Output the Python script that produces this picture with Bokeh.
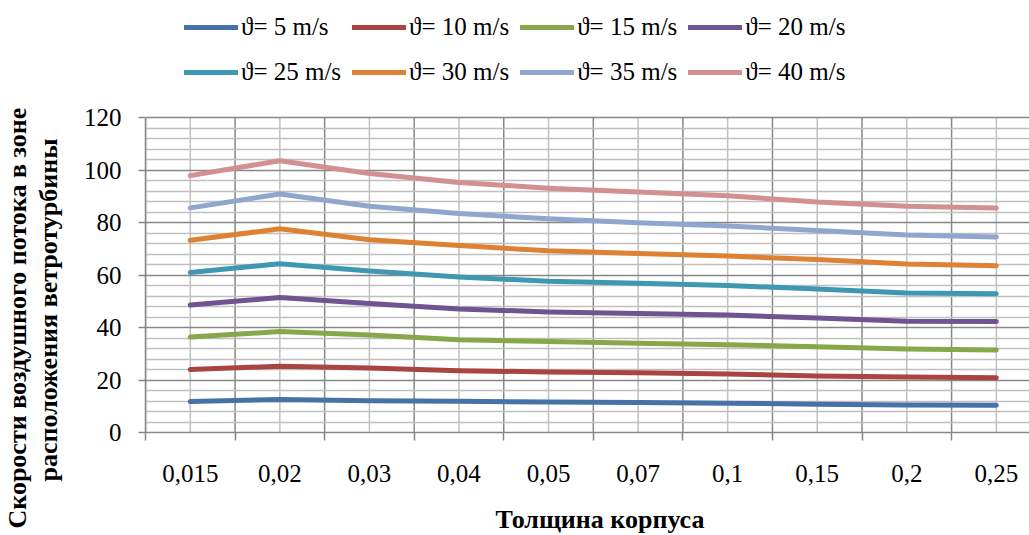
from bokeh.plotting import figure
from bokeh.models import FixedTicker, Legend, LegendItem, Range1d, Title
from bokeh.embed import file_html
from bokeh.resources import INLINE

categories = ["0,015", "0,02", "0,03", "0,04", "0,05", "0,07", "0,1", "0,15", "0,2", "0,25"]
series_names = ["ϑ= 5 m/s", "ϑ= 10 m/s", "ϑ= 15 m/s", "ϑ= 20 m/s",
                "ϑ= 25 m/s", "ϑ= 30 m/s", "ϑ= 35 m/s", "ϑ= 40 m/s"]
v5 = [11.8, 12.6, 12.1, 11.9, 11.6, 11.4, 11.2, 10.8, 10.5, 10.4]
v10 = [24.0, 25.3, 24.6, 23.6, 23.1, 22.8, 22.3, 21.6, 21.2, 20.9]
v15 = [36.4, 38.5, 37.2, 35.4, 34.7, 34.0, 33.5, 32.7, 31.9, 31.5]
v20 = [48.6, 51.5, 49.2, 47.1, 46.0, 45.4, 44.8, 43.7, 42.4, 42.3]
v25 = [61.0, 64.4, 61.6, 59.3, 57.7, 56.9, 56.1, 54.7, 53.2, 52.9]
v30 = [73.3, 77.7, 73.5, 71.3, 69.3, 68.3, 67.3, 66.0, 64.3, 63.6]
v35 = [85.7, 91.0, 86.3, 83.5, 81.5, 80.0, 78.8, 77.1, 75.3, 74.6]
v40 = [98.0, 103.7, 98.8, 95.4, 93.2, 91.7, 90.3, 87.9, 86.3, 85.6]
y_ticks = [0, 20, 40, 60, 80, 100, 120]
x_title = "Толщина корпуса"
y_title_1 = "Скорости воздушного потока в зоне"
y_title_2 = "расположения ветротурбины"

colors = ["#4672A8", "#A94442", "#87A74A", "#6E5490", "#3E98B0", "#DF8133", "#8FA7CF", "#D29090"]
all_values = [v5, v10, v15, v20, v25, v30, v35, v40]

FONT = "Liberation Serif, Times New Roman, serif"
DARK = "#878787"
LIGHT = "#c0c0c0"

n = len(categories)
centers = [i + 0.5 for i in range(n)]
boundaries = list(range(n + 1))
y_top = y_ticks[-1]

# frame reaches the top of the canvas so the legend can sit inside it
p = figure(width=1029, height=535, output_backend="svg", toolbar_location=None,
           x_range=Range1d(0, 9.87), y_range=Range1d(0, 164.8),
           min_border_left=144, min_border_right=0, min_border_top=0, min_border_bottom=101)
p.outline_line_color = None
p.background_fill_color = "white"
p.border_fill_color = "white"

# horizontal grid
p.xgrid.visible = False
minor_y = [v for v in range(4, y_top, 4) if v % 20 != 0]
p.ygrid.ticker = FixedTicker(ticks=y_ticks, minor_ticks=minor_y)
p.ygrid.grid_line_color = DARK
p.ygrid.grid_line_width = 1.5
p.ygrid.minor_grid_line_color = LIGHT
p.ygrid.minor_grid_line_width = 1.5

# vertical grid lines, limited to the value range 0..120
p.segment(x0=centers, y0=[0] * len(centers), x1=centers, y1=[y_top] * len(centers),
          line_color=LIGHT, line_width=1.5, level="underlay")
p.segment(x0=boundaries, y0=[0] * len(boundaries), x1=boundaries, y1=[y_top] * len(boundaries),
          line_color=DARK, line_width=1.5, level="underlay")

# x axis
xa = p.xaxis[0]
xa.ticker = FixedTicker(ticks=centers, minor_ticks=boundaries)
xa.major_label_overrides = {c: lab for c, lab in zip(centers, categories)}
xa.major_tick_out = 0
xa.major_tick_in = 0
xa.minor_tick_out = 8
xa.minor_tick_in = 0
xa.minor_tick_line_color = DARK
xa.minor_tick_line_width = 1.5
xa.axis_line_color = DARK
xa.axis_line_width = 1.5
xa.major_label_standoff = 24
xa.major_label_text_font = FONT
xa.major_label_text_font_size = "25px"
xa.major_label_text_color = "black"
# invisible spacer so that the title panel sits at the bottom
xa.axis_label = " "
xa.axis_label_standoff = 16
xa.axis_label_text_font_size = "1px"

# y axis
ya = p.yaxis[0]
ya.ticker = FixedTicker(ticks=y_ticks)
ya.bounds = (0, y_top)
ya.major_tick_out = 7
ya.major_tick_in = 0
ya.minor_tick_out = 0
ya.minor_tick_in = 0
ya.major_tick_line_color = DARK
ya.major_tick_line_width = 1.5
ya.axis_line_color = DARK
ya.axis_line_width = 1.5
ya.major_label_standoff = 17
ya.major_label_text_font = FONT
ya.major_label_text_font_size = "25px"
ya.major_label_text_color = "black"
ya.axis_label = " "
ya.axis_label_standoff = 14
ya.axis_label_text_font_size = "1px"

items = []
for name, vals, col in zip(series_names, all_values, colors):
    r = p.line(x=centers, y=vals, line_color=col, line_width=5,
               line_cap="round", line_join="round")
    items.append(LegendItem(label=name, renderers=[r]))

legend = Legend(items=items, location=(39, 343), orientation="horizontal", ncols=4,
                glyph_width=54, glyph_height=20, label_standoff=3, spacing=11,
                padding=0, margin=0, label_height=34,
                label_text_font=FONT, label_text_font_size="25px", label_text_color="black",
                border_line_color=None, background_fill_alpha=0)
p.add_layout(legend)

# x-axis title
p.add_layout(Title(text=x_title, align="left", offset=350, vertical_align="top",
                   standoff=0, text_font=FONT, text_font_size="26px",
                   text_font_style="bold", text_color="black"), "below")

# y-axis title, two lines (inner line first, outer line second)
p.add_layout(Title(text=y_title_2, align="left", offset=-49, vertical_align="bottom",
                   standoff=0, text_font=FONT, text_font_size="26px",
                   text_font_style="bold", text_color="black"), "left")
p.add_layout(Title(text=y_title_1, align="left", offset=-96, vertical_align="bottom",
                   standoff=0, text_font=FONT, text_font_size="26px",
                   text_font_style="bold", text_color="black"), "left")

open("out.html", "w").write(file_html(p, INLINE))
